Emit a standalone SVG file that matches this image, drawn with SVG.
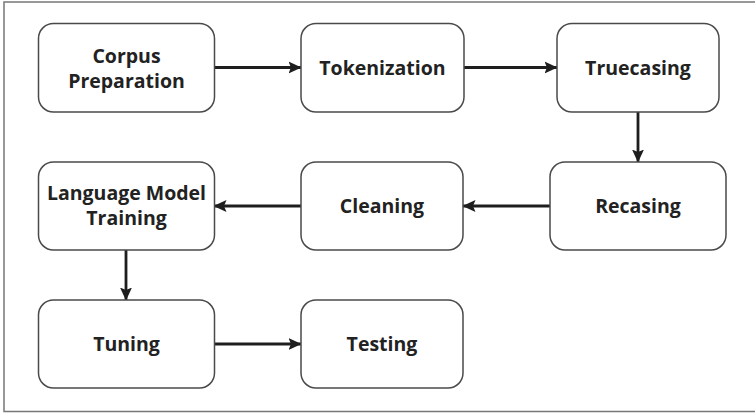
<svg xmlns="http://www.w3.org/2000/svg" width="755" height="414" viewBox="0 0 755 414">
<defs>
<style>
.frame{fill:#fff;stroke:#777;stroke-width:1.5}
.box{fill:#fff;stroke:#4a4a4a;stroke-width:1.5}
.lbl{font-family:"Open Sans","Noto Sans","DejaVu Sans",sans-serif;font-weight:700;font-size:19.5px;fill:#222;text-anchor:middle}
.edge{stroke:#1e1e1e;stroke-width:2.8;fill:none;marker-end:url(#ah)}
</style>
<marker id="ah" viewBox="0 0 13 13" refX="12.5" refY="6.5" markerWidth="13" markerHeight="13" markerUnits="userSpaceOnUse" orient="auto">
<path d="M0,0.5 L13,6.5 L0,12.5 L2.5,6.5 Z" fill="#1e1e1e"/>
</marker>
</defs>
<rect class="frame" x="4" y="2" width="760" height="409.5"/>
<g id="connectors">
<line class="edge" x1="214" y1="67.5" x2="301" y2="67.5"/>
<line class="edge" x1="464" y1="67.5" x2="557" y2="67.5"/>
<line class="edge" x1="638" y1="112" x2="638" y2="162"/>
<line class="edge" x1="550" y1="206" x2="463" y2="206"/>
<line class="edge" x1="301" y1="206" x2="214" y2="206"/>
<line class="edge" x1="126" y1="250" x2="126" y2="300"/>
<line class="edge" x1="214" y1="344" x2="301" y2="344"/>
</g>
<g id="corpus">
<rect class="box" x="38.5" y="23.5" width="176" height="88.5" rx="15"/>
<text class="lbl" x="126.5" y="63">Corpus</text>
<text class="lbl" x="126.5" y="88">Preparation</text>
</g>
<g id="tokenization">
<rect class="box" x="301" y="23.5" width="163" height="88.5" rx="15"/>
<text class="lbl" x="382.5" y="75">Tokenization</text>
</g>
<g id="truecasing">
<rect class="box" x="557" y="23.5" width="162" height="88.5" rx="15"/>
<text class="lbl" x="638" y="75">Truecasing</text>
</g>
<g id="recasing">
<rect class="box" x="550" y="162" width="176" height="88" rx="15"/>
<text class="lbl" x="638" y="213">Recasing</text>
</g>
<g id="cleaning">
<rect class="box" x="301" y="162" width="162" height="88" rx="15"/>
<text class="lbl" x="382" y="213">Cleaning</text>
</g>
<g id="lm-training">
<rect class="box" x="38.5" y="162" width="176" height="88" rx="15"/>
<text class="lbl" x="126.5" y="200">Language Model</text>
<text class="lbl" x="126.5" y="225">Training</text>
</g>
<g id="tuning">
<rect class="box" x="38.5" y="300" width="176" height="88" rx="15"/>
<text class="lbl" x="126.5" y="351">Tuning</text>
</g>
<g id="testing">
<rect class="box" x="301" y="300" width="162" height="88" rx="15"/>
<text class="lbl" x="382" y="351">Testing</text>
</g>
</svg>
